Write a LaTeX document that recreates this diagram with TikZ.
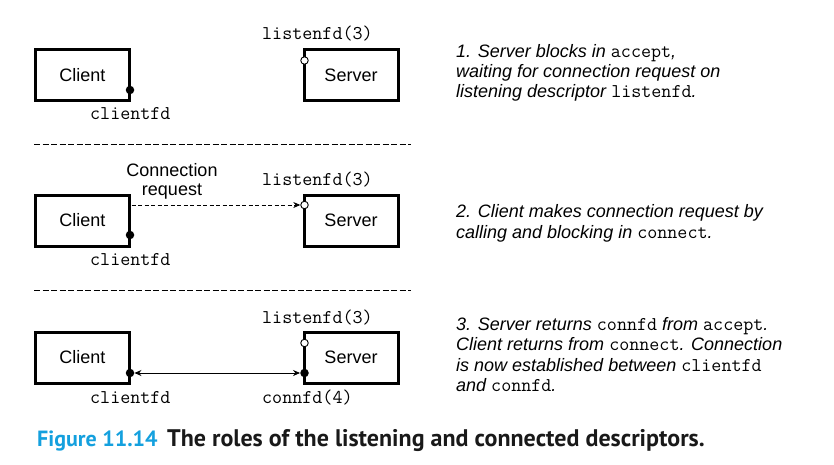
\documentclass[tikz,border=0pt]{standalone}
\usepackage{fontspec}
\setmainfont{Liberation Sans}
\newfontfamily\capfont{PT Sans}
\usetikzlibrary{arrows.meta}
\definecolor{figblue}{RGB}{20,160,222}
\begin{document}
\begin{tikzpicture}[x=1pt,y=-1pt,
  host/.style={draw, line width=3pt, minimum width=94pt, minimum height=51pt,
    inner sep=0pt, font=\fontsize{18}{20}\selectfont},
  fdlabel/.style={font=\ttfamily\fontsize{19.5}{20}\selectfont, inner sep=0pt, anchor=base west},
  desc/.style={font=\itshape\fontsize{18}{20}\selectfont, inner sep=0pt, anchor=base west},
  opendot/.style={circle, draw, fill=white, line width=0.9pt, minimum size=7.5pt, inner sep=0pt},
  fulldot/.style={circle, fill=black, minimum size=8.5pt, inner sep=0pt},
  sepline/.style={line width=0.8pt, dash pattern=on 6pt off 2.5pt},
  tip/.style={-{Stealth[length=7pt,width=6pt]}},
  bitip/.style={{Stealth[length=7pt,width=6pt]}-{Stealth[length=7pt,width=6pt]}}]
\newcommand{\code}[1]{{\upshape\ttfamily\fontsize{19.5}{20}\selectfont #1}}
\useasboundingbox (0,0) rectangle (834,465);

% ---- step 1: server waits in accept
\node[host] (cl1) at (82.5,75) {Client};
\node[host] (sv1) at (351,75) {Server};
\node[fulldot] (cfd1) at (130,90) {};
\node[opendot] (lfd1) at (304.5,60.5) {};
\node[fdlabel] (lfdl1) at (262,40) {listenfd(3)};
\node[fdlabel] (cfdl1) at (90,120) {clientfd};
\node[desc] (d1a) at (456,58) {1. Server blocks in \code{accept},};
\node[desc] (d1b) at (456,78) {waiting for connection request on};
\node[desc] (d1c) at (456,98) {listening descriptor \code{listenfd}.};

\coordinate (s1l) at (34,144);
\coordinate (s1r) at (411,144);
\draw[sepline] (s1l) -- (s1r);

% ---- step 2: client sends a connection request
\node[host] (cl2) at (82.5,220.5) {Client};
\node[host] (sv2) at (351,220.5) {Server};
\node[fulldot] (cfd2) at (130,235) {};
\node[opendot] (lfd2) at (304.5,205) {};
\node[fdlabel] (lfdl2) at (262,185) {listenfd(3)};
\node[fdlabel] (cfdl2) at (90,265) {clientfd};
\node[font=\fontsize{18}{19}\selectfont, align=center, inner sep=0pt, anchor=base] (req) at (172,195)
  {Connection\\request};
\coordinate (rq) at (131.5,205);
\draw[tip, line width=0.7pt, dash pattern=on 4pt off 2.5pt] (rq) -- (lfd2.west);
\node[desc] (d2a) at (456,217) {2. Client makes connection request by};
\node[desc] (d2b) at (456,238) {calling and blocking in \code{connect}.};

\coordinate (s2l) at (34,290);
\coordinate (s2r) at (411,290);
\draw[sepline] (s2l) -- (s2r);

% ---- step 3: connection established
\node[host] (cl3) at (82.5,357.5) {Client};
\node[host] (sv3) at (351,357.5) {Server};
\node[opendot] (lfd3) at (304.5,343) {};
\node[fulldot] (cfd3) at (130,373) {};
\node[fulldot] (cnfd3) at (304.5,373) {};
\node[fdlabel] (lfdl3) at (262,323) {listenfd(3)};
\node[fdlabel] (cfdl3) at (90,403) {clientfd};
\node[fdlabel] (cnl3) at (262,403) {connfd(4)};
\draw[bitip, line width=0.8pt] (cfd3.east) -- (cnfd3.west);
\node[desc] (d3a) at (456,330) {3. Server returns \code{connfd} from \code{accept}.};
\node[desc] (d3b) at (456,350.5) {Client returns from \code{connect}. Connection};
\node[desc] (d3c) at (456,371) {is now established between \code{clientfd}};
\node[desc] (d3d) at (456,391.5) {and \code{connfd}.};

% ---- caption
\node[font=\capfont\bfseries\fontsize{22}{25}\selectfont, text=figblue, inner sep=0pt, anchor=base west]
  (fig) at (37,446) {Figure 11.14};
\node[font=\capfont\bfseries\fontsize{24}{26}\selectfont, text=black!90, inner sep=0pt, anchor=base west]
  (cap) at (167,446) {The roles of the listening and connected descriptors.};
\end{tikzpicture}
\end{document}
